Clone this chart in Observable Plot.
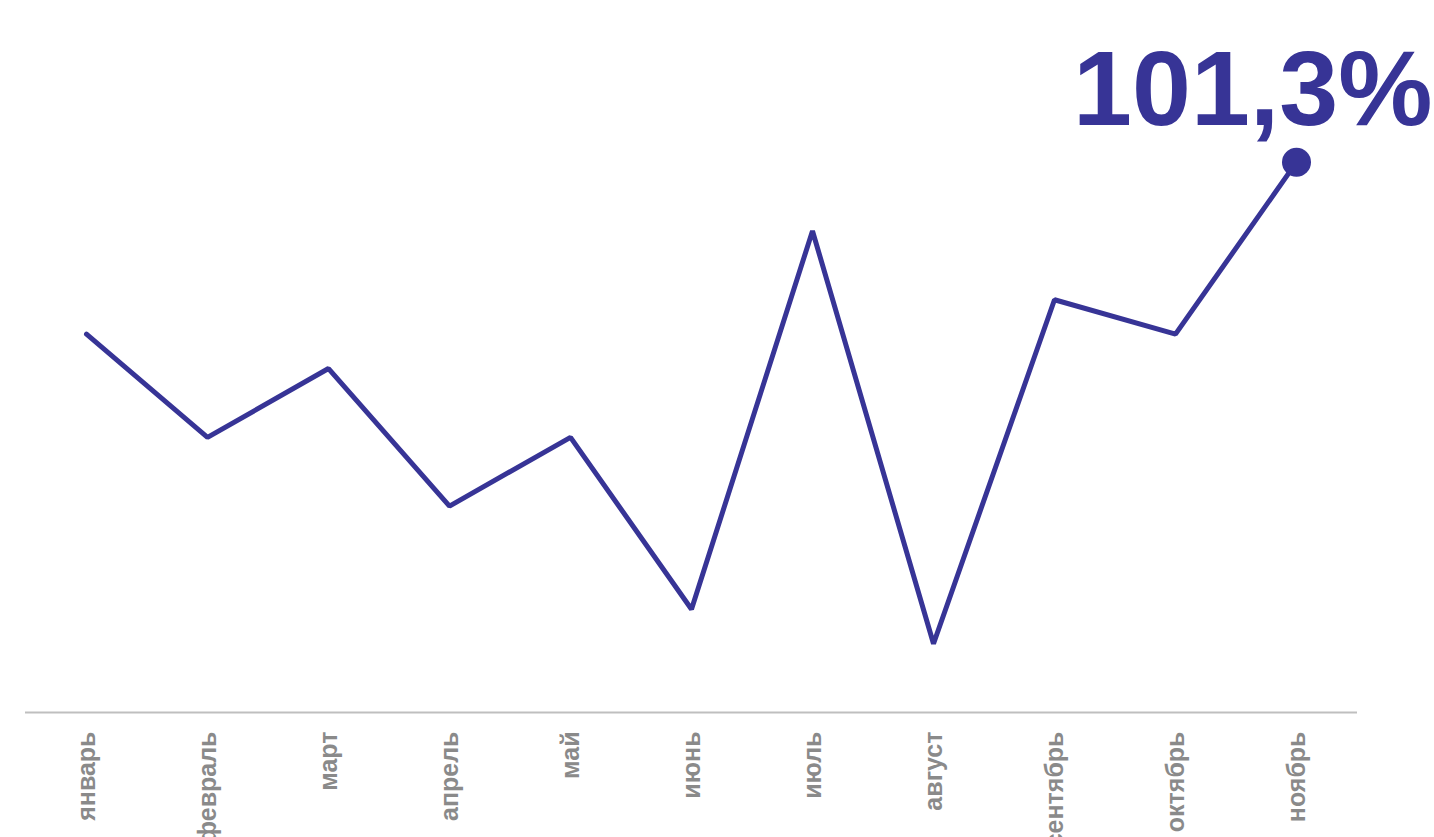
<!DOCTYPE html>
<html>
<head>
<meta charset="utf-8">
<script src="https://cdn.jsdelivr.net/npm/d3@7"></script>
<script src="https://cdn.jsdelivr.net/npm/@observablehq/plot@0.6"></script>
<style>
  html, body { margin: 0; padding: 0; background: #fff; overflow: hidden; }
  #chart svg { overflow: visible; }
</style>
</head>
<body>
<div id="chart"></div>
<script>
const months = ["январь", "февраль", "март", "апрель", "май", "июнь", "июль", "август", "сентябрь", "октябрь", "ноябрь"];
const values = [100.8, 100.5, 100.7, 100.3, 100.5, 100.0, 101.1, 99.9, 100.9, 100.8, 101.3];
const yDomain = [99.7, 101.77];

const data = months.map((m, i) => ({month: m, value: values[i]}));
const last = [data[data.length - 1]];
const fmt = v => v.toFixed(1).replace(".", ",") + "%";
const color = "#373496";

const chart = Plot.plot({
  width: 1434,
  height: 837,
  marginTop: 0,
  marginLeft: 25,
  marginRight: 77,
  marginBottom: 125,
  style: {fontFamily: "'Liberation Sans', Arial, sans-serif", background: "#fff"},
  x: {type: "point", domain: months, padding: 0.5, label: null, tickSize: 0, tickPadding: 18, tickRotate: -90},
  y: {domain: yDomain, axis: null},
  marks: [
    Plot.ruleY([yDomain[0]], {stroke: "#bfbfbf", strokeWidth: 2}),
    Plot.axisX({tickSize: 0, tickPadding: 19, tickRotate: -90, fontSize: 25, fontWeight: "bold", fill: "#8a8a8a", label: null}),
    Plot.line(data, {x: "month", y: "value", stroke: color, strokeWidth: 5, strokeLinejoin: "miter"}),
    Plot.dot(last, {x: "month", y: "value", r: 14.5, fill: color}),
    Plot.text(last, {x: "month", y: "value", text: d => fmt(d.value), textAnchor: "end", lineAnchor: "bottom", dx: 136, dy: -37, fontSize: 106, fontWeight: "bold", fill: color, style: "letter-spacing:-2px"})
  ]
});
document.getElementById("chart").append(chart);
</script>
</body>
</html>
